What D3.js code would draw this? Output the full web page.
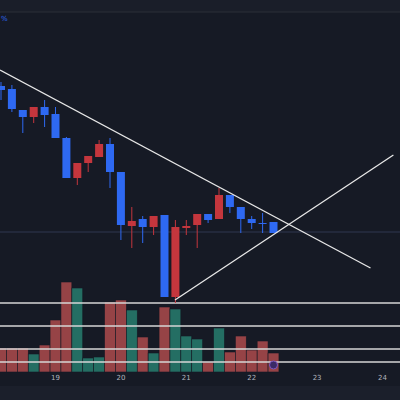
<!DOCTYPE html>
<html>
<head>
<meta charset="utf-8">
<script src="https://cdn.jsdelivr.net/npm/d3@7"></script>
<style>
  body { margin: 0; background: #161a25; }
  svg { display: block; }
</style>
</head>
<body>
<div id="chart"></div>
<script>
// 4h candles, index 0 = 18th 04:00
var opens  = [414, 411, 390, 383, 393, 386, 362, 322, 337, 343, 356, 328, 274, 281, 273, 285, 203, 272, 275, 286, 281, 305, 293, 281, 277, 278];
var highs  = [418, 415, 390, 393, 400, 393, 363, 337, 344, 360, 362, 328, 293, 284, 284, 285, 280, 280, 286, 286, 312, 305, 293, 284, 287, 278];
var lows   = [400, 388, 367, 377, 373, 362, 322, 315, 328, 343, 312, 260, 252, 257, 265, 203, 197, 265, 252, 277, 281, 287, 267, 271, 267, 267];
var closes = [410, 391, 383, 393, 385, 362, 322, 337, 344, 356, 328, 275, 279, 273, 284, 203, 273, 274, 286, 280, 305, 293, 281, 277, 277, 267];
var volumes = [24, 24, 24, 18, 27, 52, 90, 84, 14, 15, 70, 72, 62, 35, 19, 65, 63, 36, 33, 10, 44, 20, 36, 22, 31, 19];

var dayTicks = [5, 11, 17, 23, 29, 35];
var dayLabels = ["19", "20", "21", "22", "23", "24"];

var levels = [69, 46, 23, 10];          // horizontal drawings, volume pane units
var downTrend = [[-0.09, 430], [33.9, 232]];
var upTrend = [[15.96, 200], [36, 345]];
var markPrice = 268;

var width = 400, height = 400;
var upCol = "#c4363d", downCol = "#2e69f2";
var upVol = "#26786a", downVol = "#a4484a";

var svg = d3.select("#chart").append("svg")
  .attr("width", width).attr("height", height);

svg.append("rect").attr("width", width).attr("height", height).attr("fill", "#161a25");
svg.append("rect").attr("width", width).attr("height", 12).attr("fill", "#1a1e29");
svg.append("line").attr("x1", 0).attr("x2", width).attr("y1", 12).attr("y2", 12)
  .attr("stroke", "#2a2e39");
svg.append("text").attr("x", 1).attr("y", 21).attr("fill", "#2e69f2")
  .attr("font-family", "DejaVu Sans").attr("font-size", 7).text("%");

var x = d3.scaleLinear().domain([0, 35]).range([1, 382.5]);
var y = d3.scaleLinear().domain([100, 500]).range([400, 0]);
var v = d3.scaleLinear().domain([0, 90]).range([372, 282]);
var bw = 10.9;

var idx = d3.range(opens.length);

// faint price line
svg.append("line").attr("x1", 0).attr("x2", width)
  .attr("y1", y(markPrice)).attr("y2", y(markPrice))
  .attr("stroke", "#2f3650").attr("stroke-width", 1);

// volume
svg.append("g").selectAll("rect").data(idx).join("rect")
  .attr("x", i => x(i) - bw / 2)
  .attr("width", bw)
  .attr("y", i => v(volumes[i]))
  .attr("height", i => v(0) - v(volumes[i]))
  .attr("fill", i => closes[i] > opens[i] ? upVol : downVol)
  .attr("stroke", "#161a25").attr("stroke-width", 0.6)
  .attr("opacity", 0.9);

// level lines
svg.append("g").selectAll("line").data(levels).join("line")
  .attr("x1", 0).attr("x2", width)
  .attr("y1", d => v(d)).attr("y2", d => v(d))
  .attr("stroke", "#d6d6d6").attr("stroke-width", 1.6);

// candles
var c = svg.append("g").selectAll("g").data(idx).join("g");
c.append("line")
  .attr("x1", i => x(i)).attr("x2", i => x(i))
  .attr("y1", i => y(highs[i])).attr("y2", i => y(lows[i]))
  .attr("stroke", i => closes[i] > opens[i] ? upCol : downCol)
  .attr("stroke-width", 1);
c.append("rect")
  .attr("x", i => x(i) - 4)
  .attr("width", 8)
  .attr("y", i => y(Math.max(opens[i], closes[i])))
  .attr("height", i => Math.max(1, Math.abs(y(opens[i]) - y(closes[i]))))
  .attr("fill", i => closes[i] > opens[i] ? upCol : downCol);

// trend lines
[downTrend, upTrend].forEach(function(t) {
  svg.append("line")
    .attr("x1", x(t[0][0])).attr("y1", y(t[0][1]))
    .attr("x2", x(t[1][0])).attr("y2", y(t[1][1]))
    .attr("stroke", "#e8e8e8").attr("stroke-width", 1.3);
});

// marker
svg.append("circle").attr("cx", x(25)).attr("cy", 365).attr("r", 4)
  .attr("fill", "#3a2a66").attr("stroke", "#7e57c2").attr("stroke-width", 1);

// time axis
svg.append("rect").attr("x", 0).attr("y", 386).attr("width", width).attr("height", 14)
  .attr("fill", "#1b1f2b");
svg.append("g").selectAll("text").data(dayTicks).join("text")
  .attr("x", d => x(d)).attr("y", 380)
  .attr("text-anchor", "middle")
  .attr("fill", "#b2b5be")
  .attr("font-family", "DejaVu Sans").attr("font-size", 7)
  .text((d, i) => dayLabels[i]);
</script>
</body>
</html>
